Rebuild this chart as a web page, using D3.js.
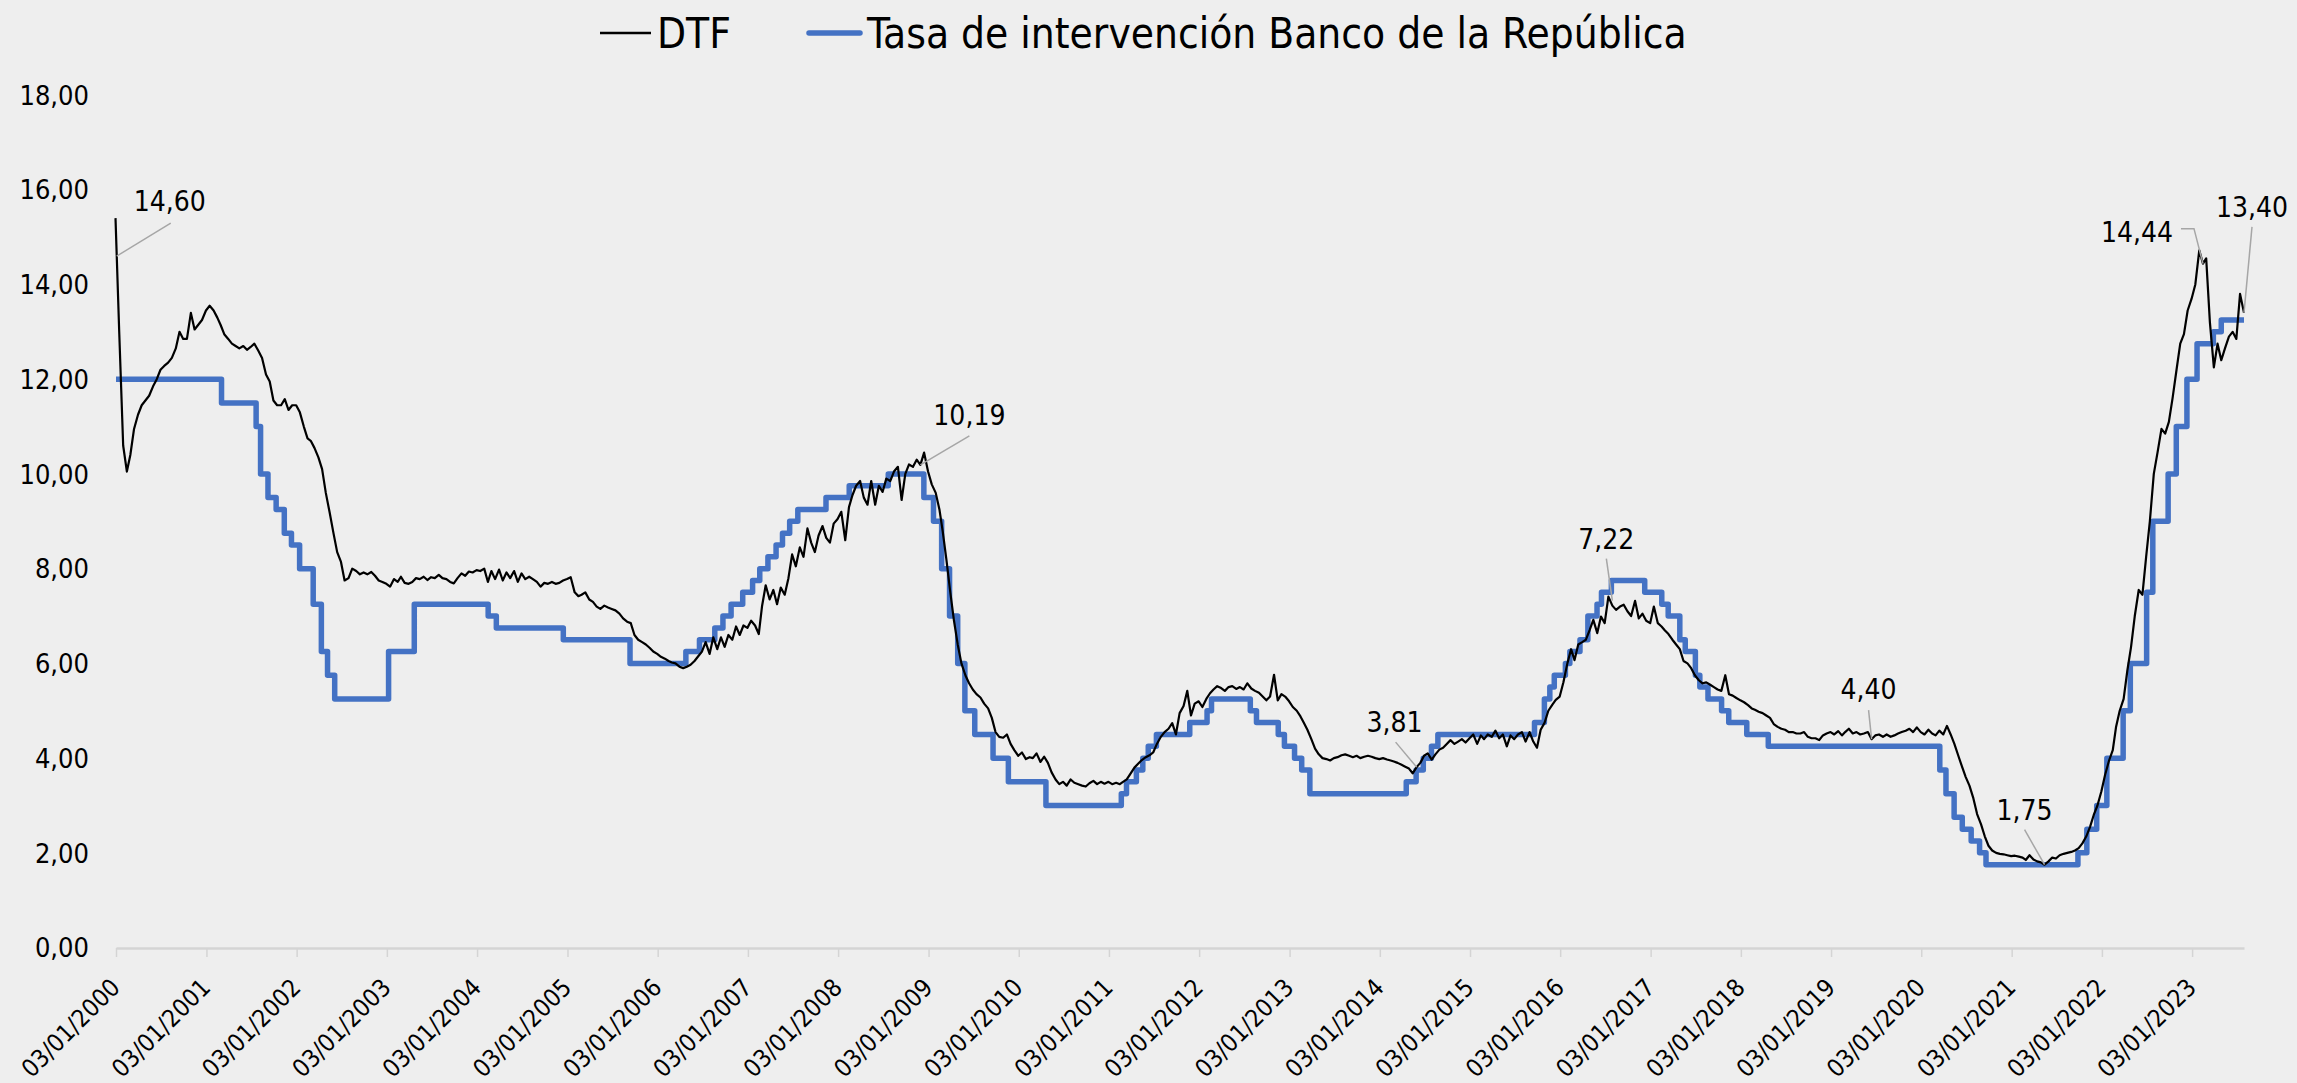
<!DOCTYPE html>
<html lang="es">
<meta charset="utf-8">
<title>DTF y tasa de intervención</title>
<style>
  body {
    margin: 0;
    background: #eeeeee;
  }
  .chart text {
    font-family: "DejaVu Sans Condensed", "DejaVu Sans", sans-serif;
    font-stretch: condensed;
    fill: #000;
  }
  .leader {
    fill: none;
    stroke: #a6a6a6;
    stroke-width: 1.5;
  }
</style>
<body>
<svg class="chart"></svg>
<script src="https://d3js.org/d3.v7.min.js"></script>
<script>
// DTF, two readings per month (1st and 16th), one row per year
var dtfYears = [2000, 2001, 2002, 2003, 2004, 2005, 2006, 2007, 2008, 2009, 2010, 2011,
                2012, 2013, 2014, 2015, 2016, 2017, 2018, 2019, 2020, 2021, 2022, 2023];
var dtfRows = [
  [15.40, 13.0, 10.6, 10.05, 10.4, 10.95, 11.25, 11.45, 11.55, 11.65, 11.85, 12.0, 12.2, 12.28, 12.35, 12.45, 12.65, 13.0, 12.85, 12.85, 13.4, 13.05, 13.15, 13.25],
  [13.45, 13.55, 13.45, 13.3, 13.15, 12.95, 12.85, 12.75, 12.7, 12.65, 12.7, 12.62, 12.68, 12.75, 12.6, 12.45, 12.1, 11.95, 11.55, 11.45, 11.45, 11.58, 11.35, 11.45],
  [11.45, 11.3, 11.0, 10.75, 10.7, 10.55, 10.35, 10.1, 9.6, 9.2, 8.75, 8.35, 8.15, 7.75, 7.8, 8.0, 7.95, 7.88, 7.92, 7.88, 7.93, 7.85, 7.75, 7.72],
  [7.68, 7.62, 7.78, 7.72, 7.83, 7.7, 7.68, 7.72, 7.8, 7.78, 7.83, 7.76, 7.82, 7.8, 7.87, 7.8, 7.78, 7.72, 7.69, 7.8, 7.9, 7.85, 7.94, 7.92],
  [7.97, 7.95, 8.0, 7.72, 7.95, 7.78, 7.98, 7.75, 7.92, 7.8, 7.95, 7.72, 7.9, 7.78, 7.83, 7.78, 7.72, 7.62, 7.7, 7.68, 7.72, 7.68, 7.7, 7.75],
  [7.78, 7.82, 7.5, 7.42, 7.45, 7.5, 7.35, 7.3, 7.2, 7.15, 7.22, 7.18, 7.15, 7.12, 7.05, 6.95, 6.88, 6.85, 6.6, 6.5, 6.45, 6.4, 6.33, 6.25],
  [6.2, 6.14, 6.1, 6.05, 6.02, 6.0, 5.93, 5.9, 5.93, 5.97, 6.05, 6.15, 6.25, 6.45, 6.2, 6.55, 6.3, 6.55, 6.35, 6.6, 6.5, 6.78, 6.6, 6.8],
  [6.75, 6.9, 6.8, 6.62, 7.2, 7.65, 7.35, 7.55, 7.25, 7.6, 7.45, 7.8, 8.3, 8.05, 8.45, 8.25, 8.85, 8.55, 8.35, 8.7, 8.9, 8.65, 8.55, 8.95],
  [9.05, 9.2, 8.6, 9.3, 9.55, 9.75, 9.85, 9.5, 9.35, 9.85, 9.35, 9.75, 9.62, 9.9, 9.85, 10.05, 10.15, 9.45, 10.0, 10.2, 10.15, 10.3, 10.19, 10.45],
  [10.05, 9.78, 9.6, 9.25, 8.8, 8.2, 7.5, 6.9, 6.4, 6.0, 5.75, 5.58, 5.45, 5.35, 5.28, 5.15, 5.05, 4.85, 4.55, 4.45, 4.43, 4.5, 4.3, 4.17],
  [4.05, 4.12, 3.98, 4.02, 4.0, 4.1, 3.92, 4.03, 3.9, 3.7, 3.55, 3.45, 3.5, 3.42, 3.55, 3.48, 3.45, 3.42, 3.4, 3.47, 3.52, 3.45, 3.5, 3.46],
  [3.5, 3.45, 3.48, 3.45, 3.5, 3.55, 3.68, 3.8, 3.88, 3.96, 4.02, 4.06, 4.12, 4.3, 4.45, 4.55, 4.62, 4.74, 4.5, 4.95, 5.1, 5.42, 4.9, 5.15],
  [5.2, 5.08, 5.25, 5.37, 5.45, 5.52, 5.48, 5.42, 5.5, 5.52, 5.46, 5.5, 5.45, 5.58, 5.47, 5.42, 5.38, 5.3, 5.22, 5.3, 5.76, 5.22, 5.35, 5.3],
  [5.2, 5.08, 5.0, 4.88, 4.75, 4.6, 4.4, 4.2, 4.08, 4.0, 3.98, 3.95, 4.0, 4.02, 4.06, 4.08, 4.05, 4.02, 4.05, 4.0, 4.03, 4.05, 4.03, 4.0],
  [3.98, 4.0, 3.97, 3.95, 3.93, 3.9, 3.86, 3.82, 3.78, 3.68, 3.81, 3.9, 4.05, 4.1, 3.97, 4.08, 4.18, 4.22, 4.3, 4.38, 4.3, 4.35, 4.4, 4.33],
  [4.42, 4.5, 4.3, 4.48, 4.4, 4.5, 4.45, 4.58, 4.42, 4.5, 4.25, 4.48, 4.4, 4.5, 4.55, 4.35, 4.55, 4.35, 4.22, 4.6, 4.75, 5.0, 5.12, 5.23],
  [5.3, 5.6, 6.0, 6.3, 6.07, 6.4, 6.45, 6.5, 6.7, 6.92, 6.64, 6.99, 6.85, 7.41, 7.22, 7.13, 7.2, 7.24, 7.1, 7.0, 7.32, 6.95, 7.05, 6.9],
  [6.85, 7.2, 6.85, 6.78, 6.7, 6.62, 6.5, 6.4, 6.3, 6.05, 6.0, 5.9, 5.75, 5.65, 5.58, 5.6, 5.55, 5.5, 5.45, 5.42, 5.75, 5.35, 5.32, 5.27],
  [5.22, 5.18, 5.12, 5.05, 5.02, 4.98, 4.95, 4.9, 4.85, 4.72, 4.66, 4.62, 4.6, 4.55, 4.55, 4.52, 4.52, 4.55, 4.45, 4.42, 4.42, 4.38, 4.48, 4.52],
  [4.55, 4.5, 4.57, 4.48, 4.55, 4.62, 4.52, 4.55, 4.5, 4.52, 4.55, 4.40, 4.48, 4.5, 4.45, 4.5, 4.45, 4.48, 4.52, 4.55, 4.58, 4.62, 4.55, 4.65],
  [4.55, 4.5, 4.6, 4.52, 4.48, 4.58, 4.5, 4.68, 4.5, 4.3, 4.05, 3.82, 3.6, 3.42, 3.15, 2.82, 2.6, 2.35, 2.15, 2.05, 2.0, 1.98, 1.97, 1.95],
  [1.93, 1.94, 1.92, 1.9, 1.85, 1.95, 1.86, 1.82, 1.8, 1.75, 1.82, 1.9, 1.88, 1.95, 1.98, 2.0, 2.02, 2.05, 2.1, 2.2, 2.35, 2.55, 2.8, 3.0],
  [3.3, 3.65, 3.95, 4.17, 4.65, 5.0, 5.25, 5.85, 6.35, 7.0, 7.55, 7.45, 8.25, 9.0, 10.0, 10.45, 10.95, 10.85, 11.1, 11.6, 12.2, 12.75, 12.95, 13.45],
  [13.7, 14.0, 14.72, 14.44, 14.55, 13.2, 12.25, 12.75, 12.4, 12.65, 12.9, 13.0, 12.85, 13.8, 13.4]
];

// Tasa de intervención: date of each change and the new level
var tasaFechas = ["2000-01-03", "2001-03-05", "2001-07-23", "2001-08-10", "2001-09-09", "2001-10-12", "2001-11-14", "2001-12-13",
  "2002-01-15", "2002-03-11", "2002-04-13", "2002-05-08", "2002-06-06", "2003-01-10", "2003-04-24",
  "2004-02-17", "2004-03-21", "2004-12-17", "2005-09-13",
  "2006-04-27", "2006-06-21", "2006-08-22", "2006-09-24", "2006-10-27", "2006-12-13",
  "2007-01-22", "2007-02-20", "2007-03-25", "2007-04-27", "2007-05-23", "2007-06-21", "2007-07-24", "2007-11-15",
  "2008-02-17", "2008-07-24", "2008-12-15",
  "2009-01-23", "2009-02-25", "2009-03-29", "2009-05-01", "2009-05-30", "2009-07-09", "2009-09-21", "2009-11-22",
  "2010-04-23",
  "2011-02-22", "2011-03-15", "2011-04-24", "2011-05-20", "2011-06-11", "2011-07-14", "2011-11-26",
  "2012-02-04", "2012-02-22", "2012-07-28", "2012-08-22", "2012-11-18", "2012-12-13",
  "2013-01-23", "2013-02-21", "2013-03-26",
  "2014-04-20", "2014-05-30", "2014-06-28", "2014-07-31", "2014-08-26",
  "2015-09-21", "2015-10-31", "2015-11-22", "2015-12-10",
  "2016-01-24", "2016-02-11", "2016-03-23", "2016-04-24", "2016-05-31", "2016-06-18", "2016-07-28", "2016-12-10",
  "2017-02-17", "2017-03-15", "2017-05-01", "2017-05-23", "2017-07-03", "2017-07-21", "2017-08-23", "2017-10-17", "2017-11-15",
  "2018-01-27", "2018-04-24",
  "2020-03-18", "2020-04-12", "2020-05-15", "2020-06-17", "2020-07-23", "2020-08-26", "2020-09-21",
  "2021-09-28", "2021-11-03", "2021-12-13",
  "2022-01-23", "2022-03-30", "2022-04-28", "2022-07-03", "2022-07-28", "2022-09-28", "2022-10-31", "2022-12-13",
  "2023-01-23", "2023-03-30", "2023-05-01", "2023-08-01"];
var tasaValores = [12, 11.5, 11, 10, 9.5, 9.25, 8.75, 8.5,
  8, 7.25, 6.25, 5.75, 5.25, 6.25, 7.25,
  7, 6.75, 6.5, 6,
  6.25, 6.5, 6.75, 7, 7.25, 7.5,
  7.75, 8, 8.25, 8.5, 8.75, 9, 9.25, 9.5,
  9.75, 10, 9.5,
  9, 8, 7, 6, 5, 4.5, 4, 3.5,
  3,
  3.25, 3.5, 3.75, 4, 4.25, 4.5, 4.75,
  5, 5.25, 5, 4.75, 4.5, 4.25,
  4, 3.75, 3.25,
  3.5, 3.75, 4, 4.25, 4.5,
  4.75, 5.25, 5.5, 5.75,
  6, 6.25, 6.5, 7, 7.25, 7.5, 7.75, 7.5,
  7.25, 7, 6.5, 6.25, 5.75, 5.5, 5.25, 5, 4.75,
  4.5, 4.25,
  3.75, 3.25, 2.75, 2.5, 2.25, 2, 1.75,
  2, 2.5, 3,
  4, 5, 6, 7.5, 9, 10, 11, 12,
  12.75, 13, 13.25, 13.25];

// labelled DTF points
var etiquetaFechas = ["2000-01-06", "2008-12-01", "2014-06-01", "2016-08-01", "2019-06-16", "2021-05-16", "2023-02-16", "2023-08-01"];
var etiquetaValores = [14.60, 10.19, 3.81, 7.22, 4.40, 1.75, 14.44, 13.40];

var yTicks = [0, 2, 4, 6, 8, 10, 12, 14, 16, 18];
var tickYears = d3.range(2000, 2024);

// label placement (offsets from the point, px)
var etiquetaPos = [
  {lx: 53, ly: -55, path: [[54, -33], [0, 0]]},
  {lx: 49, ly: -50, path: [[49, -29], [0, 0]]},
  {lx: -22, ly: -45, path: [[-21, -25], [0, 0]]},
  {lx: -6, ly: -67, path: [[-6, -47], [0, -5]]},
  {lx: -3, ly: -50, path: [[-3, -29], [0, 0]]},
  {lx: -20, ly: -55, path: [[-20, -35], [0, 0]]},
  {lx: -66, ly: -32, path: [[-22, -35], [-9, -35], [0, 0]]},
  {lx: 8, ly: -106, path: [[8, -86], [0, 0]]}
];

var width = 2297, height = 1083;
var parse = d3.timeParse("%Y-%m-%d");
var fmt = function(v) { return d3.format(".2f")(v).replace(".", ","); };

var svg = d3.select(".chart")
    .attr("width", width)
    .attr("height", height);

svg.append("rect")
    .attr("width", width)
    .attr("height", height)
    .attr("fill", "#eeeeee");

var x = d3.scaleTime()
    .domain([parse("2000-01-03"), parse("2023-08-01")])
    .range([116, 2244]);
var y = d3.scaleLinear()
    .domain([0, 18])
    .range([947.6, 95]);

// build series
var dtf = [];
dtfYears.forEach(function(yr, i) {
  dtfRows[i].forEach(function(v, k) {
    dtf.push({date: new Date(yr, Math.floor(k / 2), k % 2 ? 16 : 1), value: v});
  });
});
var tasa = tasaFechas.map(function(d, i) { return {date: parse(d), value: tasaValores[i]}; });

// x axis
var xAxis = d3.axisBottom(x)
    .tickValues(tickYears.map(function(yr) { return new Date(yr, 0, 3); }))
    .tickFormat(d3.timeFormat("%d/%m/%Y"))
    .tickSizeInner(9)
    .tickSizeOuter(0);

var gx = svg.append("g")
    .attr("transform", "translate(0,948)")
    .call(xAxis);
gx.attr("font-family", null).attr("font-size", null);
gx.select(".domain").attr("stroke", "#d4d4d4").attr("stroke-width", 2.5);
gx.selectAll(".tick line").attr("stroke", "#d4d4d4").attr("stroke-width", 1.5);
gx.selectAll(".tick text")
    .attr("y", null)
    .attr("dy", null)
    .attr("text-anchor", "end")
    .attr("transform", "translate(5,41) rotate(-45)")
    .style("font-size", "24.5px");

// y labels (no axis line)
svg.selectAll(".ylab")
    .data(yTicks)
  .enter().append("text")
    .attr("class", "ylab")
    .attr("x", 89)
    .attr("y", function(d) { return y(d); })
    .attr("dy", "0.36em")
    .attr("text-anchor", "end")
    .style("font-size", "27px")
    .text(fmt);

// series
var tasaLine = d3.line()
    .x(function(d) { return x(d.date); })
    .y(function(d) { return y(d.value); })
    .curve(d3.curveStepAfter);
var dtfLine = d3.line()
    .x(function(d) { return x(d.date); })
    .y(function(d) { return y(d.value); });

svg.append("path")
    .datum(tasa)
    .attr("d", tasaLine)
    .attr("fill", "none")
    .attr("stroke", "#4472c4")
    .attr("stroke-width", 5.5)
    .attr("stroke-linejoin", "round");

svg.append("path")
    .datum(dtf)
    .attr("d", dtfLine)
    .attr("fill", "none")
    .attr("stroke", "#000")
    .attr("stroke-width", 2.2)
    .attr("stroke-linejoin", "round");

// data labels
etiquetaFechas.forEach(function(f, i) {
  var px = x(parse(f)), py = y(etiquetaValores[i]);
  var pos = etiquetaPos[i];
  svg.append("path")
      .attr("class", "leader")
      .attr("d", d3.line()(pos.path.map(function(p) { return [px + p[0], py + p[1]]; })));
  svg.append("text")
      .attr("x", px + pos.lx)
      .attr("y", py + pos.ly)
      .attr("dy", "0.36em")
      .attr("text-anchor", "middle")
      .style("font-size", "28px")
      .text(fmt(etiquetaValores[i]));
});

// legend
var legend = svg.append("g");
legend.append("line")
    .attr("x1", 600).attr("x2", 651).attr("y1", 33).attr("y2", 33)
    .attr("stroke", "#000").attr("stroke-width", 2.3);
legend.append("text")
    .attr("x", 657).attr("y", 48)
    .style("font-size", "42px")
    .text("DTF");
legend.append("line")
    .attr("x1", 809).attr("x2", 860).attr("y1", 33).attr("y2", 33)
    .attr("stroke", "#4472c4").attr("stroke-width", 5.5)
    .attr("stroke-linecap", "round");
legend.append("text")
    .attr("x", 867).attr("y", 48)
    .style("font-size", "42px")
    .text("Tasa de intervención Banco de la República");
</script>
</body>
</html>
